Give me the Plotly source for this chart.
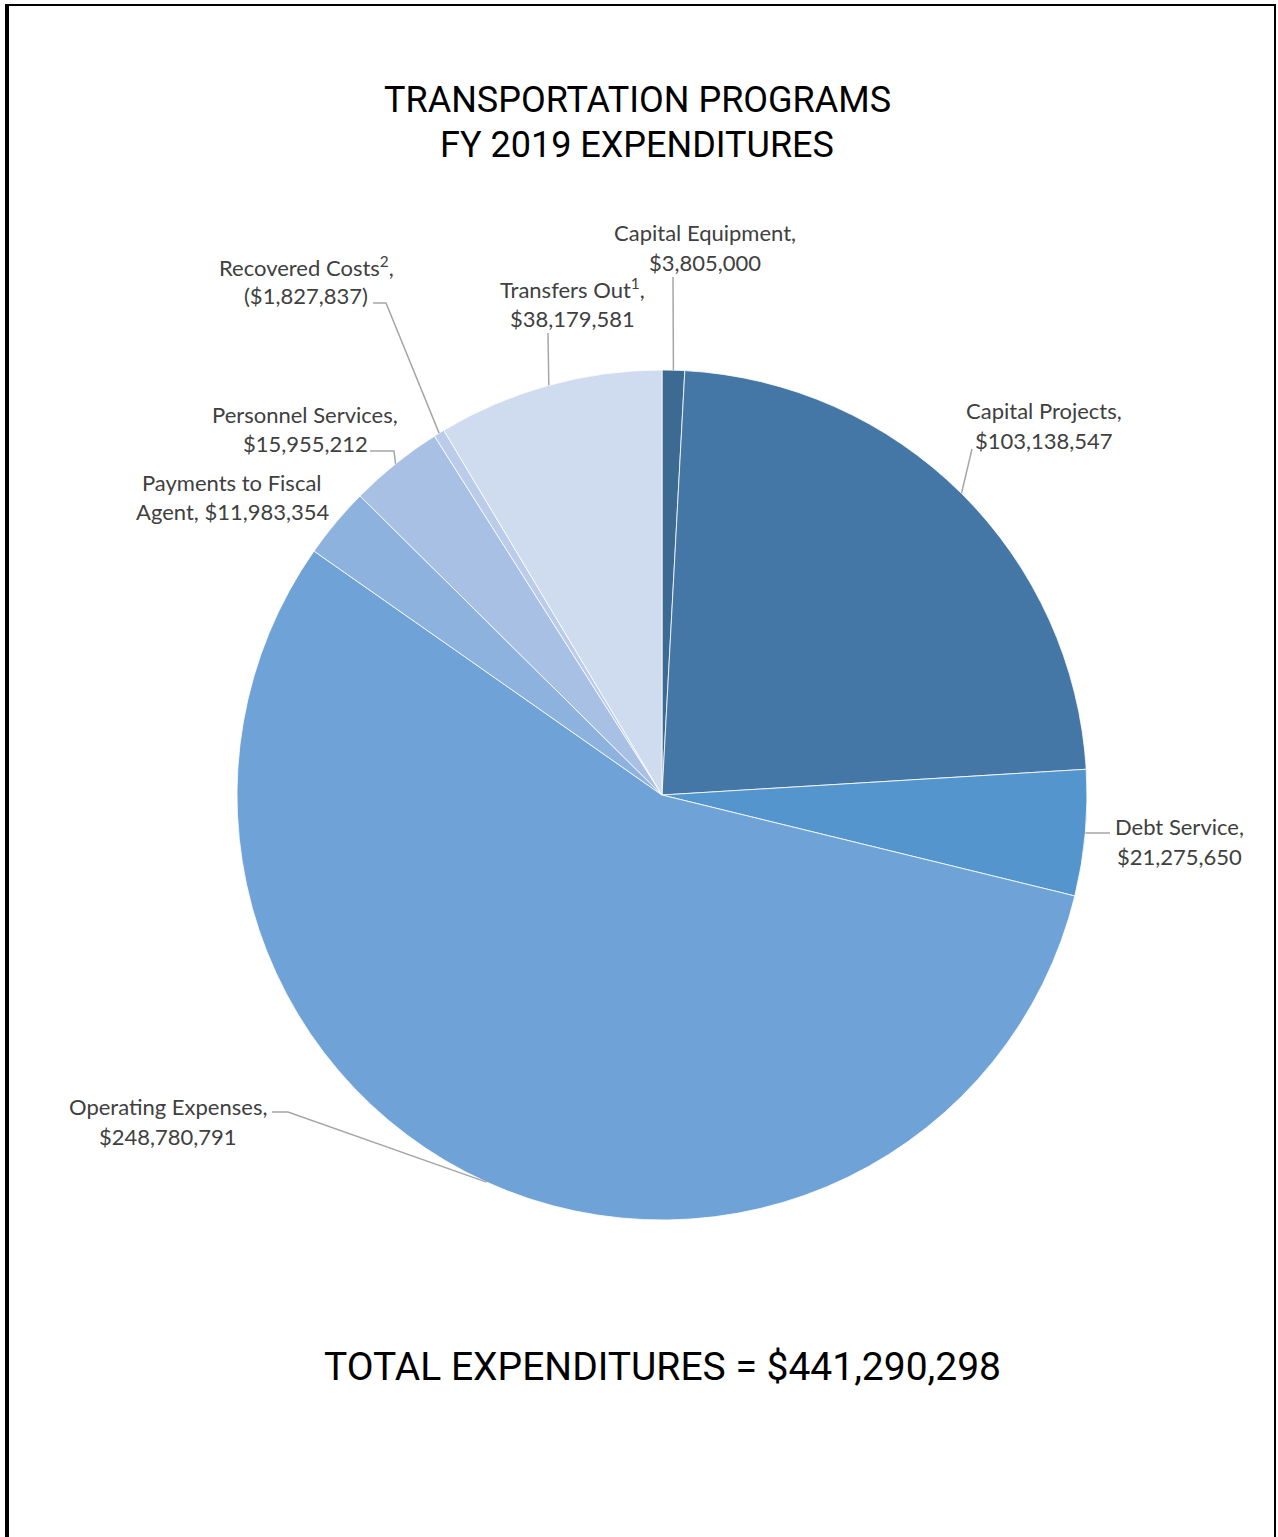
import math
import plotly.graph_objects as go

# ---------------- data ----------------
categories = ["Capital Equipment", "Capital Projects", "Debt Service", "Operating Expenses",
              "Payments to Fiscal Agent", "Personnel Services", "Recovered Costs", "Transfers Out"]
amounts = [3805000, 103138547, 21275650, 248780791, 11983354, 15955212, -1827837, 38179581]
label_line1 = ["Capital Equipment,", "Capital Projects,", "Debt Service,", "Operating Expenses,",
               "Payments to Fiscal", "Personnel Services,", "Recovered Costs<sup>2</sup>,",
               "Transfers Out<sup>1</sup>,"]
label_line2 = ["$3,805,000", "$103,138,547", "$21,275,650", "$248,780,791",
               "Agent, $11,983,354", "$15,955,212", "($1,827,837)", "$38,179,581"]
title_lines = ["TRANSPORTATION PROGRAMS", "FY 2019 EXPENDITURES"]
total_text = "TOTAL EXPENDITURES = $441,290,298"

# ---------------- style / layout ----------------
W, H = 1278, 1537
colors = ["#3C6A93", "#4476A6", "#5595CD", "#6FA2D7", "#8DB2DE", "#A7C0E4", "#BACCE9", "#CFDBEE"]
CX, CY, R = 662, 795, 425          # pie centre / radius in pixels
LABEL_FONT = "Lato, 'Open Sans', sans-serif"
TITLE_FONT = "'Liberation Sans Narrow', 'Arial Narrow', Roboto, sans-serif"
label_pos = [  # (centre x, y of line 1, y of line 2) in pixels
    (705, 233, 263), (1044, 411, 440), (1179, 826, 856), (168, 1106, 1136),
    (232, 482, 511), (305, 414, 443), (306, 266, 295), (572, 289, 319)]
leader_pts = [  # label-side points of each leader line, pixels
    [(673, 277)], [(972, 449)], [(1110, 833)], [(272, 1112), (288, 1112)],
    [], [(370, 451), (394, 451)], [(373, 303), (386, 303)], [(548, 333)]]


def px(x):
    return x / W


def py(y):
    return 1 - y / H


sizes = [abs(v) for v in amounts]
total = sum(sizes)

fig = go.Figure(go.Pie(
    labels=categories, values=sizes, sort=False, direction="clockwise", rotation=0,
    marker=dict(colors=colors, line=dict(color="white", width=0.8)),
    textinfo="none", hoverinfo="label+value", showlegend=False,
    domain=dict(x=[px(CX - R), px(CX + R)], y=[py(CY + R), py(CY - R)]),
))

annotations = []
shapes = []
cum = 0
for i, v in enumerate(sizes):
    mid = (cum + v / 2) / total * 2 * math.pi
    cum += v
    ex = CX + R * math.sin(mid)
    ey = CY - R * math.cos(mid)
    lx, y1, y2 = label_pos[i]
    for txt, yy in ((label_line1[i], y1), (label_line2[i], y2)):
        annotations.append(dict(text=txt, x=px(lx), y=py(yy), xref="paper", yref="paper",
                                xanchor="center", yanchor="middle", showarrow=False,
                                font=dict(family=LABEL_FONT, size=22, color="#404040")))
    pts = leader_pts[i]
    if pts:
        allp = pts + [(ex, ey)]
        path = "M " + " L ".join(f"{px(a)},{py(b)}" for a, b in allp)
        shapes.append(dict(type="path", path=path, xref="paper", yref="paper",
                           line=dict(color="#A6A6A6", width=1.5)))

for txt, yy in zip(title_lines, (100, 145)):
    annotations.append(dict(text=txt, x=px(637), y=py(yy), xref="paper", yref="paper",
                            xanchor="center", yanchor="middle", showarrow=False,
                            font=dict(family=TITLE_FONT, size=36, color="black")))
annotations.append(dict(text=total_text, x=px(662), y=py(1367), xref="paper", yref="paper",
                        xanchor="center", yanchor="middle", showarrow=False,
                        font=dict(family=TITLE_FONT, size=39, color="black")))

# frame
shapes += [
    dict(type="line", xref="paper", yref="paper", x0=px(7), x1=px(7), y0=py(4), y1=py(H + 5),
         line=dict(color="black", width=4)),
    dict(type="line", xref="paper", yref="paper", x0=px(5), x1=px(1276), y0=py(5), y1=py(5),
         line=dict(color="black", width=2)),
    dict(type="line", xref="paper", yref="paper", x0=px(1275), x1=px(1275), y0=py(4), y1=py(H + 5),
         line=dict(color="black", width=2)),
]

fig.update_layout(width=W, height=H, margin=dict(l=0, r=0, t=0, b=0),
                  paper_bgcolor="white", plot_bgcolor="white",
                  annotations=annotations, shapes=shapes)

fig.write_html("out.html", config={"displayModeBar": False},
               post_script="document.body.style.margin='0px';")
